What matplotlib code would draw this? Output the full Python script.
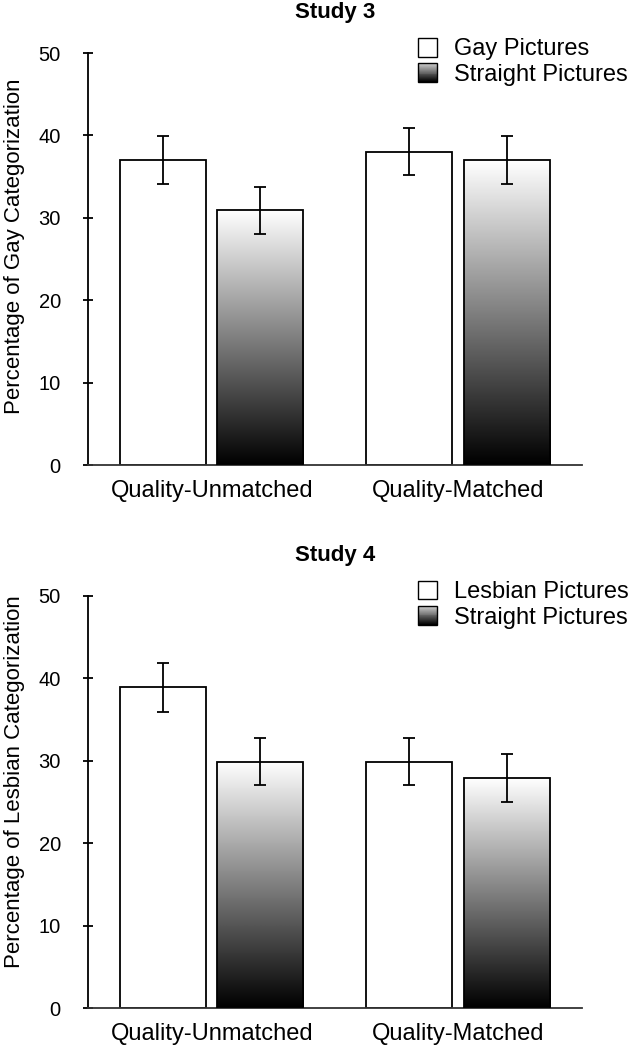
import numpy as np
import matplotlib
matplotlib.use('Agg')
import matplotlib.pyplot as plt
from matplotlib.patches import Rectangle
from matplotlib.legend_handler import HandlerBase

plt.rcParams['font.family'] = ['Liberation Sans', 'DejaVu Sans']

groups = ['Quality-Unmatched', 'Quality-Matched']

s3_gay = [37.0, 38.0]
s3_gay_err = [2.9, 2.85]
s3_straight = [30.9, 37.0]
s3_straight_err = [2.8, 2.9]

s4_lesbian = [38.9, 29.9]
s4_lesbian_err = [3.0, 2.9]
s4_straight = [29.9, 27.9]
s4_straight_err = [2.9, 2.9]

grad = np.linspace(1, 0, 256).reshape(-1, 1)


class GradientHandler(HandlerBase):
    def create_artists(self, legend, orig_handle, xdescent, ydescent,
                       width, height, fontsize, trans):
        arts = []
        n = 20
        for i in range(n):
            g = 0.8 * i / (n - 1)
            arts.append(Rectangle((-xdescent, -ydescent + height * i / n), width, height / n + 0.3,
                                  facecolor=str(g), edgecolor='none', transform=trans))
        arts.append(Rectangle((-xdescent, -ydescent), width, height, facecolor='none',
                              edgecolor='black', linewidth=1.0, transform=trans))
        return arts


def panel(ax, title, ylabel, ylab_y, first, first_err, second, second_err, first_lab, second_lab):
    x = np.array([1.44, 4.30])
    off = 0.565
    w = 1.0
    eb = dict(ecolor='black', elinewidth=1.3, capsize=4.5, capthick=1.3)
    ax.bar(x - off, first, w, yerr=first_err, color='white', edgecolor='black',
           linewidth=1.3, error_kw=eb, zorder=2)
    bars = ax.bar(x + off, second, w, color='none', edgecolor='black', linewidth=1.3, zorder=3)
    for b in bars:
        x0, y0 = b.get_x(), b.get_y()
        im = ax.imshow(grad, cmap='gray', vmin=0, vmax=1, aspect='auto',
                       extent=(x0, x0 + b.get_width(), y0, y0 + b.get_height()), zorder=2)
        im.set_clip_path(b)
    ax.errorbar(x + off, second, yerr=second_err, fmt='none', zorder=4, **eb)

    ax.set_xlim(0, 5.74)
    ax.set_ylim(0, 50)
    ax.set_yticks([0, 10, 20, 30, 40, 50])
    ax.set_xticks(x)
    ax.set_xticklabels(groups)
    ax.tick_params(axis='x', length=0, pad=11, labelsize=17)
    ax.tick_params(axis='y', direction='inout', length=7, width=1.3, pad=16, labelsize=14.5)
    for s in ['top', 'right']:
        ax.spines[s].set_visible(False)
    ax.spines['left'].set_linewidth(1.3)
    ax.spines['bottom'].set_linewidth(1.3)
    ax.spines['bottom'].set_color('#333333')
    ax.set_title(title, fontsize=16, fontweight='bold', pad=25)
    ax.set_ylabel(ylabel, fontsize=16, labelpad=10, y=ylab_y)

    h1 = Rectangle((0, 0), 1, 1, facecolor='white', edgecolor='black', linewidth=1.0)
    h2 = Rectangle((0, 0), 1, 1)
    ax.legend([h1, h2], [first_lab, second_lab], handler_map={h2: GradientHandler()},
              loc='upper left', bbox_to_anchor=(0.668, 1.037), frameon=False,
              fontsize=17, handlelength=0.82, handleheight=0.85, handletextpad=0.72,
              labelspacing=0.12, borderpad=0, borderaxespad=0)


fig = plt.figure(figsize=(6.37, 10.5), dpi=100)
ax1 = fig.add_axes([0.138, 0.557, 0.7755, 0.3925])
ax2 = fig.add_axes([0.138, 0.040, 0.7755, 0.3925])

panel(ax1, 'Study 3', 'Percentage of Gay Categorization', 0.53, s3_gay, s3_gay_err,
      s3_straight, s3_straight_err, 'Gay Pictures', 'Straight Pictures')
panel(ax2, 'Study 4', 'Percentage of Lesbian Categorization', 0.55, s4_lesbian, s4_lesbian_err,
      s4_straight, s4_straight_err, 'Lesbian Pictures', 'Straight Pictures')

fig.savefig('out.png', dpi=100)
